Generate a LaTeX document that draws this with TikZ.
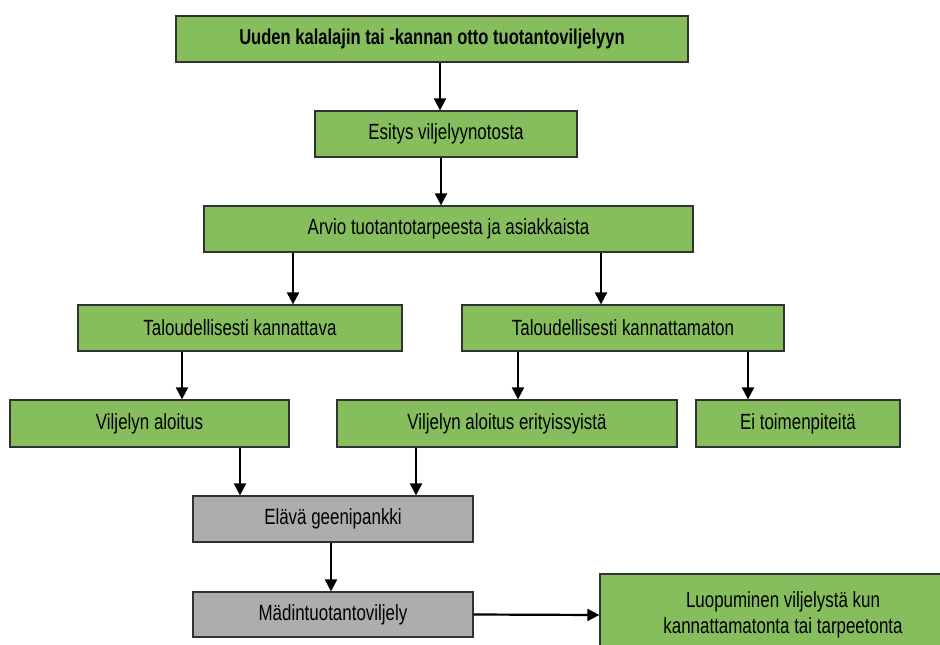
\documentclass[tikz,border=0pt]{standalone}
\usepackage{fontspec}
\newfontfamily\kaavio{Liberation Sans}[FakeStretch=0.77]
\usetikzlibrary{arrows.meta}
\definecolor{vihrea}{RGB}{134,190,93}
\definecolor{harmaa}{RGB}{173,173,173}
\definecolor{reuna}{RGB}{50,50,50}
\tikzset{
  laatikko/.style={draw=reuna,line width=1.3pt,fill=vihrea,minimum height=46pt,
    inner sep=0pt,font=\kaavio\fontsize{22}{26}\selectfont},
  harmaa laatikko/.style={laatikko,fill=harmaa},
  nuoli/.style={line width=2.2pt,-{Triangle[length=12pt,width=12pt]}}
}
\begin{document}
\begin{tikzpicture}[x=1pt,y=-1pt]
        \useasboundingbox[fill=white] (0,0) rectangle (940,645);
        % ylin taso
        \node [laatikko,minimum width=512pt,font=\kaavio\bfseries\fontsize{21.5}{26}\selectfont] (uusi) at (432,39) {Uuden kalalajin tai -kannan otto tuotantoviljelyyn};
        \node [laatikko,minimum width=262pt] (esitys) at (446,134) {Esitys viljelyynotosta};
        \node [laatikko,minimum width=489pt] (arvio) at (448.5,229) {Arvio tuotantotarpeesta ja asiakkaista};
        % kannattavuus
        \node [laatikko,minimum width=324pt] (kann) at (240,328) {Taloudellisesti kannattava};
        \node [laatikko,minimum width=322pt] (kannton) at (623,328) {Taloudellisesti kannattamaton};
        \node [laatikko,minimum width=279pt,minimum height=47pt] (aloitus) at (149.5,423.5) {Viljelyn aloitus};
        \node [laatikko,minimum width=340pt,minimum height=47pt] (erityis) at (507,423.5) {Viljelyn aloitus erityissyistä};
        \node [laatikko,minimum width=204pt,minimum height=47pt] (eitoim) at (798,423.5) {Ei toimenpiteitä};
        % geenipankki
        \node [harmaa laatikko,minimum width=280pt] (geeni) at (333,519) {Elävä geenipankki};
        \node [harmaa laatikko,minimum width=280pt,minimum height=45pt] (madi) at (333,614.5) {Mädintuotantoviljely};
        \node [laatikko,minimum width=366pt,minimum height=82pt,align=center] (luopu) at (783,615) {Luopuminen viljelystä kun\\kannattamatonta tai tarpeetonta};
        % nuolet
        \draw [nuoli] (uusi.south -| 440,0) -- (esitys.north -| 440,0);
        \draw [nuoli] (esitys.south -| 441,0) -- (arvio.north -| 441,0);
        \draw [nuoli] (arvio.south -| 293,0) -- (kann.north -| 293,0);
        \draw [nuoli] (arvio.south -| 601,0) -- (kannton.north -| 601,0);
        \draw [nuoli] (kann.south -| 182,0) -- (aloitus.north -| 182,0);
        \draw [nuoli] (kannton.south -| 518,0) -- (erityis.north -| 518,0);
        \draw [nuoli] (kannton.south -| 748,0) -- (eitoim.north -| 748,0);
        \draw [nuoli] (aloitus.south -| 240,0) -- (geeni.north -| 240,0);
        \draw [nuoli] (erityis.south -| 416,0) -- (geeni.north -| 416,0);
        \draw [nuoli] (geeni.south -| 331,0) -- (madi.north -| 331,0);
        \draw [nuoli] (madi.east) -- (luopu.west);
    \end{tikzpicture}
\end{document}
